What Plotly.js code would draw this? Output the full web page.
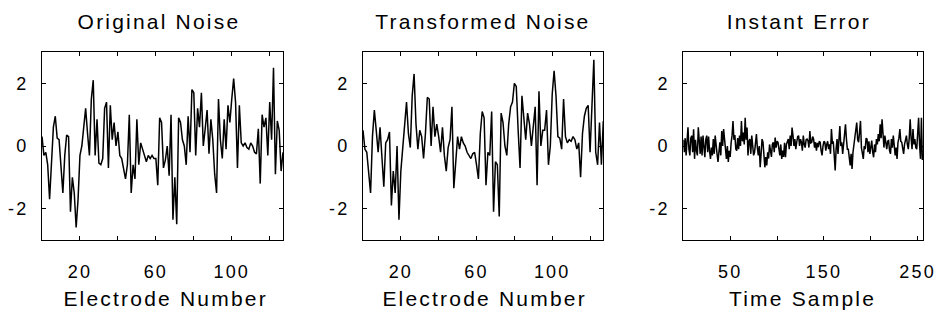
<!DOCTYPE html>
<html>
<head>
<meta charset="utf-8">
<script src="https://cdn.plot.ly/plotly-3.0.1.min.js"></script>
<style>
  html, body { margin: 0; padding: 0; background: #fff; }
  #chart { width: 939px; height: 320px; }
  #chart text { letter-spacing: 2.2px; }
</style>
</head>
<body>
<div id="chart"></div>
<script>
// Panel titles and axis labels
const panelTitles = ['Original Noise', 'Transformed Noise', 'Instant Error'];
const xTitles = ['Electrode Number', 'Electrode Number', 'Time Sample'];

// Tick positions / labels
const electrodeTickVals = [20, 40, 60, 80, 100, 120];
const electrodeTickText = ['20', '', '60', '', '100', ''];
const sampleTickVals = [50, 100, 150, 200, 250];
const sampleTickText = ['50', '', '150', '', '250'];
const yTickVals = [-2, 0, 2];
const yTickText = ['-2', '0', '2'];

// Noise on each of the 128 electrodes
const originalNoise = [
  0.3, -0.3, -0.2, -0.6, -1.7, -0.5, 0.6, 0.95, 0.25, 0.2,
  -0.6, -1.5, -0.3, 0.35, 0.3, -2.1, -1.0, -1.5, -2.6, -1.7,
  -0.3, 0.0, 0.6, 1.2, 0.4, -0.3, 1.5, 2.1, -0.3, 0.85,
  -0.55, -0.6, -0.4, 1.2, 1.4, -0.7, 1.3, 0.2, 0.75, 0.0,
  0.45, -0.3, -0.4, -0.7, -1.05, -0.6, 1.0, -1.5, -0.6, -1.05,
  0.85, -0.6, 0.1, -0.1, -0.3, -0.5, -0.3, -0.4, -0.3, -0.4,
  -0.4, -1.25, 0.9, 0.75, -0.7, -0.45, 0.0, -0.95, 1.0, -2.35,
  -1.0, -2.5, 0.9, 0.75, 0.2, 0.0, -0.6, 0.95, -0.2, 1.8,
  1.7, -0.3, 1.2, 0.6, 1.7, 0.0, 0.55, 1.15, -0.25, 0.85,
  0.2, -0.9, -1.5, 1.5, 0.2, -0.4, 0.85, -0.1, 1.3, 0.75,
  1.5, 2.15, 1.4, -0.7, 1.3, 0.1, 0.0, 0.1, -0.05, -0.1,
  0.1, 0.0, -0.2, -0.25, 0.55, -1.2, 1.0, 0.6, 0.9, -0.3,
  1.4, 0.2, 2.5, -0.9, 0.8, 0.5, -0.8, -0.2
];

const transformedNoise = [
  0.5, -0.1, -0.2, -0.8, -1.5, 0.3, 1.15, 0.5, -0.2, 0.6,
  -0.5, -1.3, 0.1, 0.2, 0.45, -1.9, -0.8, -1.5, 0.0, -2.35,
  -0.8, 0.0, 0.6, 1.4, 0.4, -0.05, 1.6, 2.3, 0.7, -0.1,
  0.5, 0.3, -0.4, 0.4, 1.55, 1.5, 0.0, 1.25, 0.3, 0.7,
  0.3, -0.2, 0.6, -0.3, -0.8, -0.05, 0.2, 1.25, -1.35, -0.6,
  0.3, -0.1, 0.3, 0.1, 0.0, -0.2, -0.3, -0.4, -0.25, -0.2,
  -0.6, -1.05, 0.4, 1.1, 0.9, -1.25, -0.2, -0.3, 1.1, -2.1,
  -0.5, -0.6, -2.25, 1.05, 0.75, 0.0, -0.3, 0.7, 1.25, 1.4,
  2.0, 1.9, 0.5, -0.7, 1.6, 0.85, 0.2, 1.05, 0.7, 0.0,
  0.6, 1.25, -1.25, 1.75, 0.0, 0.5, 0.5, 1.15, -0.6, 0.0,
  1.65, 2.4, 1.6, 0.3, 0.25, -0.1, 1.5, 0.3, 0.1, 0.2,
  0.15, 0.3, 0.2, -0.1, 0.1, -1.0, 0.4, 0.95, 1.2, 1.3,
  -0.2, 1.6, 2.75, -0.2, -0.6, 0.75, -0.6, 0.8
];

// Instantaneous error over 256 time samples
const instantError = [
  0.2, -0.2, 0.25, -0.3, 0.15, 0.6, -0.1, -0.3, 0.25, 0.33,
  -0.2, 0.53, -0.41, 0.2, -0.15, -0.3, 0.6, 0.0, -0.25, 0.3,
  -0.3, 0.33, -0.1, -0.36, 0.2, 0.33, -0.2, 0.3, -0.15, -0.41,
  -0.05, -0.3, 0.22, -0.25, 0.33, -0.1, -0.25, -0.51, 0.0, 0.12,
  -0.3, 0.48, 0.0, 0.54, 0.22, -0.2, -0.41, 0.0, -0.51, -0.15,
  -0.35, 0.1, 0.33, 0.8, 0.2, 0.35, -0.1, -0.15, 0.25, -0.1,
  0.33, 0.0, 0.8, 0.15, 0.43, 0.05, 0.9, 0.2, 0.59, -0.3,
  0.15, 0.22, -0.25, 0.33, -0.05, -0.3, -0.2, 0.15, 0.38, -0.05,
  -0.3, 0.0, -0.68, -0.25, 0.22, 0.12, -0.3, -0.68, -0.35, -0.62,
  -0.2, -0.4, 0.05, -0.15, -0.35, 0.05, 0.12, -0.2, 0.27, -0.05,
  0.15, 0.12, -0.2, -0.3, 0.05, -0.41, -0.15, -0.35, 0.1, -0.36,
  0.05, 0.15, 0.22, -0.1, 0.33, 0.0, 0.59, 0.33, 0.0, 0.22,
  -0.1, 0.12, 0.3, 0.33, 0.0, 0.22, 0.12, -0.15, 0.33, 0.05,
  -0.05, 0.2, 0.22, 0.17, -0.05, 0.48, 0.1, 0.12, 0.3, 0.22,
  -0.05, 0.12, -0.15, 0.1, -0.04, 0.15, 0.12, -0.15, -0.3, 0.0,
  0.15, 0.12, -0.15, 0.05, 0.15, -0.1, 0.05, -0.25, 0.54, 0.1,
  0.12, -0.3, -0.78, -0.1, 0.22, -0.25, 0.2, 0.64, 0.0, 0.12,
  -0.25, 0.05, 0.3, 0.69, 0.22, -0.1, -0.1, -0.4, -0.62, -0.25,
  -0.73, -0.2, 0.05, 0.22, 0.45, 0.75, 0.2, 0.12, 0.45, 0.8,
  -0.05, -0.25, -0.41, 0.0, -0.1, 0.25, 0.22, -0.2, 0.15, -0.25,
  0.05, 0.17, -0.2, -0.36, 0.05, -0.2, 0.22, 0.05, 0.38, 0.15,
  0.69, 0.25, 0.85, 0.22, -0.05, 0.33, 0.05, -0.1, 0.15, 0.17,
  -0.15, -0.25, 0.22, -0.05, 0.33, -0.05, -0.3, -0.05, -0.41, 0.12,
  0.25, 0.54, 0.15, 0.12, -0.15, -0.25, 0.05, 0.22, 0.33, 0.05,
  -0.1, 0.25, 0.85, 0.25, -0.1, 0.54, 0.05, 0.22, -0.05, -0.1,
  0.35, 0.9, 0.05, -0.41, 0.9, -0.45
];

// Sample indices start at 0
function indices(n) {
  const out = [];
  for (let i = 0; i < n; i++) out.push(i);
  return out;
}

const FONT_FAMILY = 'Liberation Sans, Arial, Helvetica, sans-serif';
const tickFont = { family: FONT_FAMILY, size: 18, color: '#000' };
const labelFont = { family: FONT_FAMILY, size: 21, color: '#000' };

const W = 939, H = 320;
// plot-area boxes in pixels: [left, right]
const boxes = [[42, 283], [363, 603.3], [683.3, 923.3]];
const boxTop = 52, boxBottom = 240;
const yDomain = [(H - boxBottom) / H, (H - boxTop) / H];
// small horizontal nudges for the panel titles and x-axis labels
const titleShift = [-4, 0, -4];
const xLabelShift = [3, 1, -1];

function lineTrace(y, k) {
  const s = k === 0 ? '' : String(k + 1);
  return {
    x: indices(y.length), y: y, type: 'scatter', mode: 'lines',
    line: { color: '#000', width: 1.5 },
    xaxis: 'x' + s, yaxis: 'y' + s, hoverinfo: 'skip', showlegend: false
  };
}

function xAxis(k, range, vals, text) {
  return {
    domain: [boxes[k][0] / W, boxes[k][1] / W], anchor: 'y' + (k === 0 ? '' : k + 1),
    range: range, tickvals: vals, ticktext: text,
    showline: true, linecolor: '#000', linewidth: 1, mirror: 'allticks',
    ticks: 'inside', ticklen: 4, tickwidth: 1, tickcolor: '#000',
    showgrid: false, zeroline: false, tickfont: tickFont, ticklabelstandoff: 15,
    fixedrange: true
  };
}

function yAxis(k) {
  return {
    domain: yDomain, anchor: 'x' + (k === 0 ? '' : k + 1),
    range: [-3, 3], tickvals: yTickVals, ticktext: yTickText,
    showline: true, linecolor: '#000', linewidth: 1, mirror: 'allticks',
    ticks: 'inside', ticklen: 4, tickwidth: 1, tickcolor: '#000',
    showgrid: false, zeroline: false, tickfont: tickFont, ticklabelstandoff: 9,
    fixedrange: true
  };
}

const annotations = [];
for (let k = 0; k < 3; k++) {
  const cx = (boxes[k][0] + boxes[k][1]) / 2 / W;
  annotations.push({
    text: panelTitles[k], x: cx, y: (H - 21) / H, xref: 'paper', yref: 'paper',
    xshift: titleShift[k],
    xanchor: 'center', yanchor: 'middle', showarrow: false, font: labelFont
  });
  annotations.push({
    text: xTitles[k], x: cx, y: (H - 298) / H, xref: 'paper', yref: 'paper',
    xshift: xLabelShift[k],
    xanchor: 'center', yanchor: 'middle', showarrow: false, font: labelFont
  });
}

const data = [
  lineTrace(originalNoise, 0),
  lineTrace(transformedNoise, 1),
  lineTrace(instantError, 2)
];

const layout = {
  width: W, height: H,
  margin: { l: 0, r: 0, t: 0, b: 0 },
  paper_bgcolor: '#fff', plot_bgcolor: '#fff',
  font: tickFont,
  showlegend: false,
  xaxis: xAxis(0, [0, 127], electrodeTickVals, electrodeTickText),
  xaxis2: xAxis(1, [0, 127], electrodeTickVals, electrodeTickText),
  xaxis3: xAxis(2, [0, 256], sampleTickVals, sampleTickText),
  yaxis: yAxis(0), yaxis2: yAxis(1), yaxis3: yAxis(2),
  annotations: annotations
};

Plotly.newPlot('chart', data, layout, { displayModeBar: false, staticPlot: true });
</script>
</body>
</html>
